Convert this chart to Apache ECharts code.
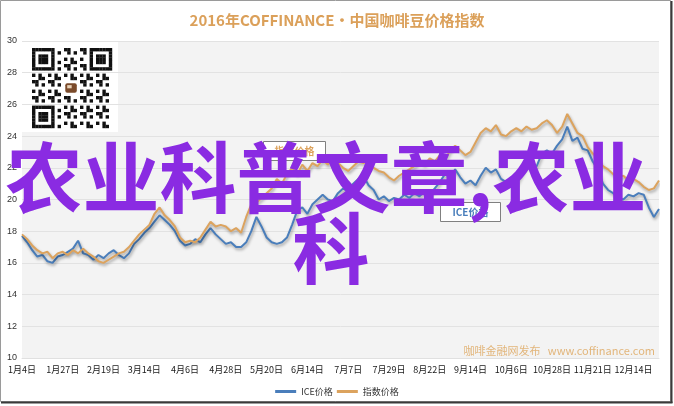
<!DOCTYPE html>
<html>
<head>
<meta charset="utf-8">
<script src="https://cdn.jsdelivr.net/npm/echarts@6/dist/echarts.min.js"></script>
<style>
html,body{margin:0;padding:0;background:#fff;}
#c{width:674px;height:406px;}
</style>
</head>
<body>
<div id="c"></div>
<script>
const titleText = '2016年COFFINANCE•中国咖啡豆价格指数';
const seriesNames = ['ICE价格', '指数价格'];
const tickLabels = ['1月4日','1月27日','2月19日','3月14日','4月6日','4月28日','5月20日','6月14日','7月7日','7月29日','8月22日','9月14日','10月6日','10月28日','11月21日','12月14日'];
const categories = [
'1月4日','1月7日','1月11日','1月13日','1月15日','1月19日','1月21日','1月25日',
'1月27日','1月29日','2月2日','2月4日','2月8日','2月10日','2月12日','2月16日',
'2月19日','2月23日','2月25日','2月29日','3月2日','3月4日','3月8日','3月10日',
'3月14日','3月16日','3月18日','3月22日','3月24日','3月29日','3月31日','4月4日',
'4月6日','4月8日','4月12日','4月14日','4月18日','4月20日','4月22日','4月26日',
'4月28日','5月2日','5月4日','5月6日','5月10日','5月12日','5月16日','5月18日',
'5月20日','5月24日','5月26日','5月31日','6月2日','6月6日','6月8日','6月10日',
'6月14日','6月16日','6月20日','6月22日','6月24日','6月28日','6月30日','7月5日',
'7月7日','7月11日','7月13日','7月15日','7月19日','7月21日','7月25日','7月27日',
'7月29日','8月2日','8月4日','8月8日','8月10日','8月12日','8月16日','8月18日',
'8月22日','8月24日','8月26日','8月30日','9月1日','9月6日','9月8日','9月12日',
'9月14日','9月16日','9月20日','9月22日','9月26日','9月28日','9月30日','10月4日',
'10月6日','10月10日','10月12日','10月14日','10月18日','10月20日','10月24日','10月26日',
'10月28日','11月1日','11月3日','11月7日','11月9日','11月11日','11月15日','11月17日',
'11月21日','11月23日','11月28日','11月30日','12月2日','12月6日','12月8日','12月12日',
'12月14日','12月16日','12月20日','12月22日','12月27日','12月29日'
];
const icePrice = [
17.7,17.3,16.8,16.4,16.5,16.1,16.0,16.4,
16.5,16.7,16.9,17.4,16.6,16.5,16.2,16.5,
16.3,16.6,16.8,16.5,16.3,16.6,17.2,17.5,
17.9,18.2,18.6,19.0,18.7,18.4,18.0,17.4,
17.1,17.2,17.5,17.3,17.8,18.2,17.8,17.5,
17.2,17.3,17.0,17.0,17.3,18.0,18.9,18.3,
17.6,17.3,17.2,17.3,17.6,18.4,19.3,19.5,
19.1,19.7,20.0,20.3,20.0,19.9,20.4,20.7,
20.5,21.0,21.3,21.5,20.9,20.6,20.0,20.2,
19.9,20.1,20.0,20.3,20.1,20.4,20.2,20.5,
20.3,20.7,21.1,21.6,21.4,21.9,21.4,21.0,
21.2,20.9,21.5,22.0,21.7,21.9,21.3,21.1,
21.2,21.0,21.6,22.2,21.9,22.1,22.9,23.1,
22.9,23.4,23.8,24.6,23.7,23.9,23.2,23.1,
22.4,21.9,21.0,20.6,20.4,20.1,20.0,20.3,
20.2,20.4,20.3,19.5,18.9,19.4
];
const indexPrice = [
17.8,17.5,17.1,16.8,16.6,16.7,16.3,16.6,
16.7,16.5,16.8,16.6,16.9,16.6,16.4,16.1,
16.0,16.2,16.4,16.6,16.7,17.0,17.4,17.8,
18.1,18.4,19.1,19.5,19.0,18.7,18.3,17.6,
17.3,17.4,17.3,17.6,18.1,18.6,18.3,18.4,
18.3,18.0,18.2,17.9,18.9,19.7,19.8,20.1,
20.4,20.7,21.3,21.0,21.6,22.0,21.6,22.2,
21.8,22.3,22.1,22.5,22.2,22.6,22.3,22.0,
21.8,22.1,22.4,22.3,22.4,22.0,21.8,21.7,
21.4,21.2,21.5,21.7,21.9,22.1,22.4,22.2,
22.6,22.4,22.8,22.5,23.1,23.4,23.1,22.8,
23.0,23.6,24.2,24.5,24.3,24.7,24.1,24.0,
24.3,24.5,24.3,24.6,24.4,24.5,24.8,25.0,
24.7,24.2,24.6,25.4,24.8,24.2,24.0,23.3,
22.9,22.6,22.1,21.9,21.6,21.4,21.5,21.2,
21.3,21.1,20.8,20.6,20.7,21.2
];
const overlayLine1 = '农业科普文章,农业';
const overlayLine2 = '科';
const watermark = '咖啡金融网发布   www.coffinance.com';

const BLUE = '#4a7ebb';
const ORANGE = '#dca35e';
const CJK = '"Noto Sans CJK SC", "Noto Sans", sans-serif';

// decorative QR-like block
const qrEls = [];
const qrN = 25, qrX = 32, qrY = 48, qrS = 3.2;
qrEls.push({type:'rect', shape:{x:22, y:42, width:96, height:90}, style:{fill:'#ffffff'}});
function inFinder(r, c){
  if (r < 8 && c < 8) return [r, c];
  if (r < 8 && c >= qrN - 8) return [r, c - (qrN - 7)];
  if (r >= qrN - 8 && c < 8) return [r - (qrN - 7), c];
  return null;
}
for (let r = 0; r < qrN; r++) {
  for (let c = 0; c < qrN; c++) {
    let dark;
    const f = inFinder(r, c);
    if (f) {
      const lr = f[0], lc = f[1];
      if (lr < 0 || lc < 0 || lr > 6 || lc > 6) dark = false;
      else { const d = Math.max(Math.abs(lr - 3), Math.abs(lc - 3)); dark = d !== 2; }
    } else if (r >= 10 && r <= 14 && c >= 10 && c <= 14) {
      dark = false;
    } else {
      dark = ((r * 17 + c * 31 + r * c * 7) % 5) < 2;
    }
    if (dark) qrEls.push({type:'rect', shape:{x:qrX + c * qrS, y:qrY + r * qrS, width:qrS + 0.2, height:qrS + 0.2}, style:{fill:'#111'}});
  }
}
qrEls.push({type:'rect', shape:{x:qrX + 10.4 * qrS, y:qrY + 11.0 * qrS, width:3.6 * qrS, height:3.0 * qrS, r:2}, style:{fill:'#7a4a2a'}});
qrEls.push({type:'rect', shape:{x:qrX + 11.0 * qrS, y:qrY + 11.6 * qrS, width:1.4 * qrS, height:1.0 * qrS}, style:{fill:'#e8d2b8'}});

const chart = echarts.init(document.getElementById('c'), null, {renderer:'canvas'});
chart.setOption({
  animation: false,
  backgroundColor: '#ffffff',
  title: {
    text: titleText,
    left: 'center',
    top: 8,
    textStyle: {color: '#dba05a', fontSize: 15, fontWeight: 'bold', fontFamily: CJK}
  },
  legend: {
    data: seriesNames,
    left: 'center',
    top: 382,
    itemWidth: 21,
    itemHeight: 3,
    itemGap: 4,
    icon: 'rect',
    textStyle: {fontSize: 9, color: '#333', fontFamily: CJK}
  },
  grid: {
    left: 22, right: 15, top: 41, bottom: 48,
    show: true, backgroundColor: '#f3f3f3', borderWidth: 0
  },
  xAxis: {
    type: 'category',
    data: categories,
    boundaryGap: false,
    axisLine: {show: true, lineStyle: {color: '#e0e0e0'}},
    axisTick: {show: false},
    splitLine: {show: false},
    axisLabel: {
      interval: (idx, val) => tickLabels.indexOf(val) >= 0,
      hideOverlap: false,
      showMinLabel: true,
      showMaxLabel: true,
      color: '#1a1a1a', fontSize: 9, margin: 7, fontFamily: CJK
    }
  },
  yAxis: {
    type: 'value',
    min: 10, max: 30, interval: 2,
    axisLine: {show: false},
    axisTick: {show: false},
    splitLine: {lineStyle: {color: '#e2e2e2', width: 1}},
    axisLabel: {color: '#333', fontSize: 9, margin: 5, fontFamily: 'Liberation Sans, sans-serif'}
  },
  series: [
    {
      name: seriesNames[0], type: 'line', data: icePrice, showSymbol: false, symbol: 'none',
      itemStyle: {color: BLUE},
      lineStyle: {color: BLUE, width: 2, shadowColor: 'rgba(0,0,0,0.35)', shadowBlur: 3, shadowOffsetX: 1, shadowOffsetY: 2}
    },
    {
      name: seriesNames[1], type: 'line', data: indexPrice, showSymbol: false, symbol: 'none',
      itemStyle: {color: ORANGE},
      lineStyle: {color: ORANGE, width: 2, shadowColor: 'rgba(0,0,0,0.35)', shadowBlur: 3, shadowOffsetX: 1, shadowOffsetY: 2}
    }
  ],
  graphic: [
    {type:'group', z: 5, children: qrEls},
    {type:'text', z: 5, style:{text: watermark, x: 655, y: 351, textAlign:'right', align:'right', textVerticalAlign:'middle', verticalAlign:'middle', fill:'#e2b57a', font:'11px ' + CJK}},
    {type:'group', z: 6, children: [
      {type:'rect', shape:{x:263.5, y:141.5, width:62, height:19}, style:{fill:'#fff', stroke:'#808080', lineWidth:1}},
      {type:'text', style:{text: seriesNames[1], x:294.5, y:151, textAlign:'center', align:'center', textVerticalAlign:'middle', verticalAlign:'middle', fill:ORANGE, font:'bold 10px ' + CJK}}
    ]},
    {type:'group', z: 6, children: [
      {type:'rect', shape:{x:440.5, y:202.5, width:60, height:19}, style:{fill:'#fff', stroke:'#808080', lineWidth:1}},
      {type:'text', style:{text: seriesNames[0], x:470.5, y:212, textAlign:'center', align:'center', textVerticalAlign:'middle', verticalAlign:'middle', fill:BLUE, font:'bold 10px ' + CJK}}
    ]},
    {type:'text', z: 20, style:{text: overlayLine1, x: 326, y: 178, textAlign:'center', align:'center', textVerticalAlign:'middle', verticalAlign:'middle', fill:'#8a2be2', font:'bold 77px ' + CJK}},
    {type:'text', z: 20, style:{text: overlayLine2, x: 331, y: 249, textAlign:'center', align:'center', textVerticalAlign:'middle', verticalAlign:'middle', fill:'#8a2be2', font:'bold 77px ' + CJK}},
    {type:'rect', z: 30, shape:{x:0.5, y:0.5, width:670, height:401}, style:{fill:'none', stroke:'#9a9a9a', lineWidth:1}},
    {type:'line', z: 31, shape:{x1:671.5, y1:1, x2:671.5, y2:403}, style:{stroke:'#3a3a3a', lineWidth:2}},
    {type:'line', z: 31, shape:{x1:1, y1:402.5, x2:672.5, y2:402.5}, style:{stroke:'#3a3a3a', lineWidth:2}}
  ]
});
</script>
</body>
</html>
